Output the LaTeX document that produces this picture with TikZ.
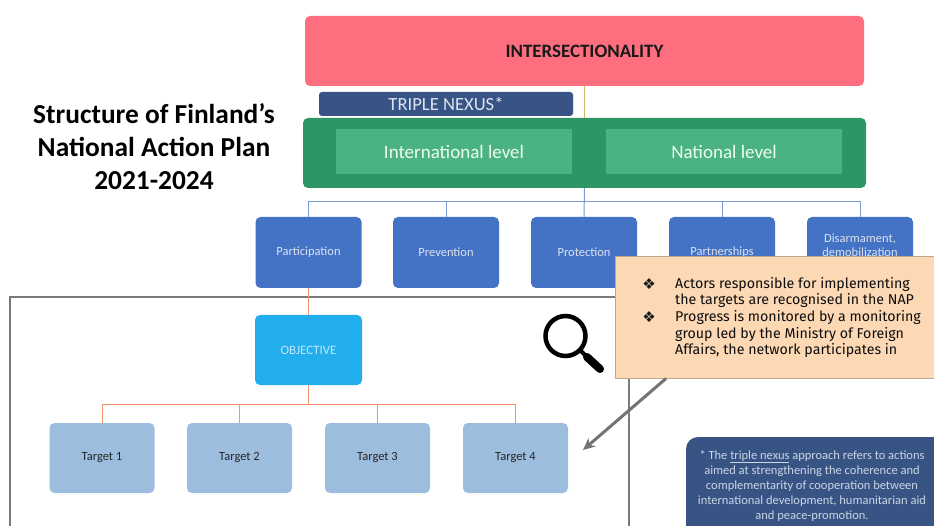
\documentclass[tikz,border=0pt]{standalone}
\usetikzlibrary{arrows.meta}
\usepackage{fontspec}
\setmainfont{Carlito}
\newfontfamily\bodyfont{Fira Sans}
\newfontfamily\symfont{DejaVu Sans}
\definecolor{redbox}{HTML}{FF6E7F}
\definecolor{navybox}{HTML}{385485}
\definecolor{greenbox}{HTML}{2E9565}
\definecolor{lightgreen}{HTML}{4BB381}
\definecolor{bluebox}{HTML}{4472C4}
\definecolor{cyanbox}{HTML}{22ADEC}
\definecolor{targetbox}{HTML}{9DBDDF}
\definecolor{peachbox}{HTML}{FCD8B4}
\definecolor{peachedge}{HTML}{BFA78F}
\definecolor{linkorange}{HTML}{F0956E}
\definecolor{linkblue}{HTML}{7C9BD6}
\definecolor{linktan}{HTML}{D3B56C}
\definecolor{softwhite}{HTML}{DCE3F0}
\definecolor{framegray}{HTML}{7A7A7A}
\definecolor{arrowgray}{HTML}{737373}
\tikzset{
  x=1pt,y=-1pt,
  base/.style={rounded corners=5pt,inner sep=0pt,outer sep=0pt,align=center},
  pillar/.style={base,fill=bluebox,text=softwhite,minimum width=106pt,minimum height=71pt,font=\fontsize{12.5}{14.5}\selectfont},
  target/.style={base,fill=targetbox,text=black!85,minimum width=105pt,minimum height=70pt,font=\fontsize{12.5}{14}\selectfont},
  levelbox/.style={inner sep=0pt,outer sep=0pt,fill=lightgreen,text=white!92!green,minimum width=236pt,minimum height=45pt,font=\fontsize{19}{22}\selectfont},
  bluelink/.style={draw=linkblue,line width=1pt},
  orangelink/.style={draw=linkorange,line width=1pt},
}
\begin{document}
\begin{tikzpicture}
\useasboundingbox (0,0) rectangle (934,526);
\clip (0,0) rectangle (934,526);
\fill[white] (0,0) rectangle (934,526);

% top stack
\node[base,fill=redbox,text=black!90,minimum width=559pt,minimum height=70pt,font=\bfseries\fontsize{18.9}{22}\selectfont] (inter) at (584.5,51) {INTERSECTIONALITY};
\node[base,rounded corners=3pt,fill=navybox,text=softwhite,minimum width=254pt,minimum height=24pt,font=\fontsize{18.6}{22}\selectfont] (triple) at (446,104) {TRIPLE NEXUS*};
\node[base,fill=greenbox,minimum width=563pt,minimum height=70pt] (green) at (584.5,153) {};
\node[levelbox] (intl) at (454,151.5) {International level};
\node[levelbox] (natl) at (724,151.5) {National level};
\draw[draw=linktan,line width=1pt] (inter.south) -- (green.north);

% title
\node[align=center,text=black,font=\bfseries\fontsize{27.4}{33}\selectfont] (title) at (154,147) {Structure of Finland's\\National Action Plan\\2021-2024};

% pillars
\node[pillar] (p1) at (308.5,252.5) {Participation};
\node[pillar] (p2) at (446,252.5) {Prevention};
\node[pillar] (p3) at (584,252.5) {Protection};
\node[pillar] (p4) at (722,252.5) {Partnerships};
\node[pillar] (p5) at (860,252.5) {Disarmament,\\demobilization\\\mbox{}};
\coordinate (barTop) at (584.5,202);
\draw[bluelink] (green.south) -- (p3.north);
\foreach \n in {p1,p2,p4,p5} \draw[bluelink] (barTop) -| (\n.north);

% frame
\draw[draw=framegray,line width=1.2pt] (10,540) -- (10,297) -- (629,297) -- (629,540);

% objective and targets
\node[base,fill=cyanbox,text=cyan!25,minimum width=107pt,minimum height=70pt,font=\fontsize{12.9}{14}\selectfont] (obj) at (308.5,350) {OBJECTIVE};
\draw[orangelink] (p1.south) -- (obj.north);
\node[target] (t1) at (102,458) {Target 1};
\node[target] (t2) at (239.5,458) {Target 2};
\node[target] (t3) at (377.5,458) {Target 3};
\node[target] (t4) at (515.5,458) {Target 4};
\coordinate (barLow) at (308.5,404);
\draw[orangelink] (obj.south) -- (barLow);
\foreach \n in {t1,t2,t3,t4} \draw[orangelink] (barLow) -| (\n.north);

% magnifier
\draw[black,line width=4.5pt] (565.5,336) circle (20);
\draw[black,line width=4pt] (580,350) -- (587,357);
\draw[black,line width=8pt,line cap=round] (587,357) -- (600,369);

% note box
\node[base,rounded corners=12pt,fill=navybox,minimum width=270pt,minimum height=110pt] (note) at (821,492) {};
\node[inner sep=0pt,align=center,text=softwhite!90!navybox,font=\fontsize{12.5}{15.2}\selectfont] (notetext) at (812,486) {* The \underline{triple nexus} approach refers to actions\\aimed at strengthening the coherence and\\complementarity of cooperation between\\international development, humanitarian aid\\and peace-promotion.};

% callout
\node[inner sep=0pt,outer sep=0pt,fill=peachbox,draw=peachedge,line width=1pt,minimum width=330pt,minimum height=121pt] (call) at (780,317.5) {};
\node[inner sep=0pt,anchor=west,align=left,text=black!95,font=\bodyfont\fontsize{14.2}{16.6}\selectfont] (calltext) at (675,317.5) {Actors responsible for implementing\\the targets are recognised in the NAP\\Progress is monitored by a monitoring\\group led by the Ministry of Foreign\\Affairs, the network participates in};
\node[inner sep=0pt,font=\symfont\fontsize{15}{16}\selectfont,text=black!90] (b1) at (649,284) {❖};
\node[inner sep=0pt,font=\symfont\fontsize{15}{16}\selectfont,text=black!90] (b2) at (649,317) {❖};

% arrow
\coordinate (arrowEnd) at (583,450);
\draw[draw=arrowgray,line width=3pt,-{Stealth[length=12pt,width=11pt]}] (666,378.5) -- (arrowEnd);
\end{tikzpicture}
\end{document}
